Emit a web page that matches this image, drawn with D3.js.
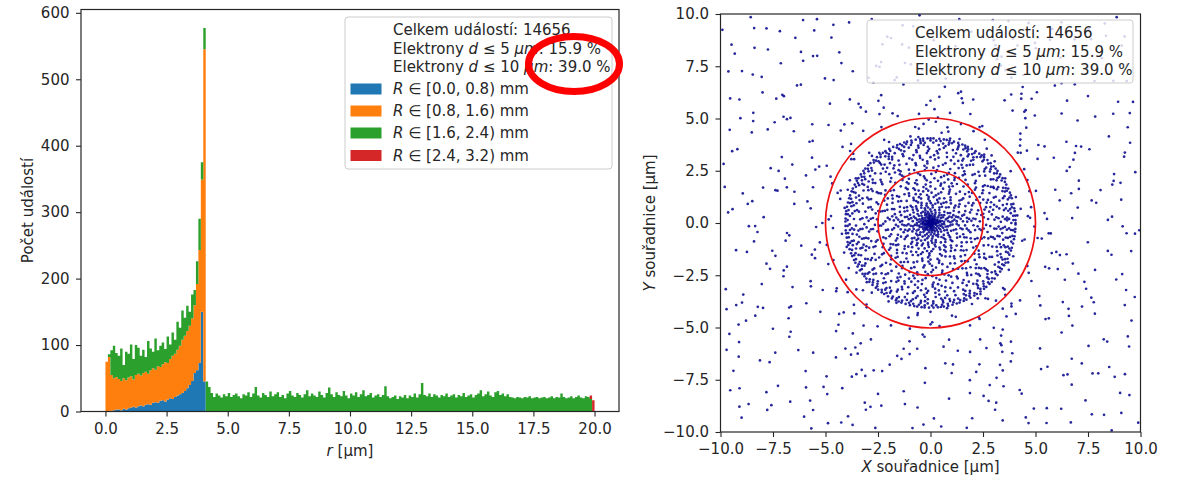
<!DOCTYPE html>
<html>
<head>
<meta charset="utf-8">
<script src="https://cdn.jsdelivr.net/npm/d3@7"></script>
<style>
body { margin: 0; background: #fff; }
svg text { font-family: "DejaVu Sans", sans-serif; fill: #262626; }
</style>
</head>
<body>
<svg id="chart" width="1181" height="481"></svg>
<script>
(function() {

// ---- histogram: counts per 0.1 µm bin of r (stacked by beam radius R) ----
const binWidth = 0.1;
const nBins = 200;
const blueCounts = [
    0, 0, 1, 2, 3, 3, 2, 4, 3, 5, 6, 7, 6, 8, 9, 8, 10, 11, 10, 13,
    14, 13, 16, 17, 15, 18, 20, 19, 22, 24, 26, 28, 31, 35, 40, 46, 58, 62, 73, 150,
    45
];
const orangeCounts = [
    75, 82, 54, 48, 49, 46, 44, 46, 44, 46, 47, 41, 49, 49, 45, 50, 50, 46, 52, 52,
    49, 55, 51, 54, 59, 55, 59, 65, 65, 69, 73, 80, 83, 86, 89, 94, 102, 130, 170, 199,
    500
];
const greenCounts = [
    0, 4, 37, 49, 36, 35, 49, 20, 43, 36, 48, 31, 45, 39, 30, 35, 22, 49, 33, 25,
    47, 24, 32, 33, 20, 40, 22, 35, 21, 42, 27, 44, 27, 38, 21, 36, 23, 34, 47, 26,
    32, 45, 37, 28, 22, 27, 24, 21, 26, 23, 28, 22, 25, 27, 23, 20, 26, 24, 29, 22,
    27, 37, 24, 21, 28, 25, 22, 30, 23, 26, 29, 22, 25, 20, 27, 31, 24, 22, 28, 25,
    21, 26, 32, 23, 27, 24, 22, 30, 25, 21, 28, 36, 26, 22, 29, 25, 23, 31, 24, 20,
    27, 24, 29, 22, 26, 32, 23, 25, 28, 21, 24, 26, 22, 25, 38, 23, 20, 22, 24, 19,
    23, 21, 25, 20, 24, 22, 27, 21, 26, 43, 25, 23, 27, 22, 26, 24, 21, 25, 23, 27,
    22, 24, 26, 21, 25, 23, 28, 22, 24, 26, 21, 25, 27, 32, 23, 26, 30, 24, 22, 29,
    31, 25, 27, 23, 26, 22, 21, 20, 22, 21, 20, 22, 21, 23, 20, 21, 22, 20, 21, 22,
    20, 21, 23, 20, 22, 21, 27, 22, 20, 21, 23, 20, 22, 24, 21, 20, 23, 22, 19, 0
];
const redBins = [[198, 5], [199, 17]];

const seriesKeys = ["blue", "orange", "green", "red"];
const seriesColors = ["#1f77b4", "#ff7f0e", "#2ca02c", "#d62728"];
const rangeEdges = [0.0, 0.8, 1.6, 2.4, 3.2];

const totalEvents = 14656;
const fractions = [{ d: 5, pct: 15.9 }, { d: 10, pct: 39.0 }];

const histXTicks = [0, 2.5, 5, 7.5, 10, 12.5, 15, 17.5, 20];
const histYTicks = [0, 100, 200, 300, 400, 500, 600];
const scatTicks = [-10, -7.5, -5, -2.5, 0, 2.5, 5, 7.5, 10];
const circleRadii = [2.5, 5];

// ---- scatter: sampled hits, polar angles (deg) listed per 0.1 µm radius bin ----
const ringAngles = [
    [211, 47, 330, 128, 6, 265, 189, 92, 301, 154, 23, 240, 357, 71, 176, 283, 115, 318],
    [88, 302, 17, 199, 245, 131, 352, 66, 160, 274, 39, 221, 109, 325, 2, 183, 257, 143, 290, 54],
    [150, 33, 276, 204, 97, 341, 12, 239, 121, 58, 309, 186, 269, 75, 225, 3, 162, 292, 108, 44, 351, 196],
    [267, 19, 138, 84, 315, 227, 172, 50, 358, 102, 249, 193, 28, 295, 157, 66, 213, 336, 120, 8, 283, 181, 237, 94],
    [61, 205, 329, 147, 14, 260, 98, 184, 312, 37, 231, 124, 346, 79, 168, 278, 5, 219, 111, 297, 153],
    [174, 310, 42, 252, 118, 355, 86, 201, 26, 289, 141, 64, 232, 327, 10, 193, 272, 104, 161, 343],
    [25, 246, 133, 304, 71, 190, 355, 112, 223, 49, 280, 167, 5, 321, 91, 209, 148, 262, 36, 339, 180, 124, 295],
    [299, 82, 209, 145, 13, 258, 332, 111, 56, 187, 240, 347, 162, 30, 276, 99, 228],
    [136, 6, 273, 191, 318, 60, 224, 103, 349, 159, 39, 287, 217, 83, 308, 174, 16, 252, 121, 337, 200],
    [242, 101, 19, 330, 166, 285, 55, 205, 134, 353, 76, 263, 188, 30, 311, 148, 232, 89, 2, 275, 117],
    [45, 312, 158, 223, 92, 5, 264, 183, 131, 339, 70, 250, 15, 197, 298, 114, 356, 143, 231, 61, 281, 170, 27, 326],
    [186, 308, 57, 249, 139, 19, 282, 95, 220, 343, 165, 74, 266, 8, 199, 121, 324, 41, 237],
    [83, 238, 14, 301, 167, 111, 346, 53, 209, 276, 139, 28, 257, 185, 320, 94, 4, 226, 152, 290, 70, 358, 123, 195],
    [320, 146, 33, 263, 97, 210, 355, 176, 61, 290, 126, 245, 12, 199, 338, 79, 227, 156, 302, 44, 272, 114, 183],
    [109, 268, 21, 192, 331, 75, 233, 150, 8, 297, 178, 49, 255, 124, 350, 212, 88, 312, 35, 165],
    [227, 52, 310, 137, 3, 186, 268, 94, 349, 160, 30, 244, 117, 287, 71, 205, 335, 13, 174, 253, 103, 298],
    [14, 171, 289, 97, 236, 341, 58, 200, 128, 266, 33, 319, 152, 82, 222, 356, 110, 249, 183, 306],
    [257, 115, 2, 328, 188, 70, 294, 143, 225, 38, 351, 166, 90, 270, 19, 205, 312, 126, 59, 241, 337, 176, 101, 281, 8],
    [132, 283, 49, 214, 349, 97, 170, 26, 258, 323, 146, 75, 232, 6, 190, 300, 116, 60, 267, 338, 207, 159, 37],
    [347, 196, 63, 269, 124, 15, 227, 305, 90, 175, 251, 37, 332, 140, 213, 109, 282, 3, 160, 75, 318],
    [71, 219, 6, 304, 152, 95, 262, 189, 339, 28, 236, 125, 286, 47, 173, 357, 111, 210, 320, 80, 247, 141, 18, 272, 198, 59],
    [178, 323, 40, 261, 108, 5, 222, 147, 296, 85, 351, 189, 62, 240, 119, 335, 23, 277, 163, 208, 97, 312],
    [291, 34, 199, 120, 356, 77, 236, 165, 11, 273, 144, 317, 56, 212, 98, 340, 181, 250, 25, 129, 301, 68, 226, 157],
    [102, 247, 330, 15, 183, 61, 284, 138, 213, 353, 89, 264, 39, 166, 309, 116, 225, 2, 197, 74, 342, 150, 271, 48, 233],
    [220, 62, 333, 141, 283, 9, 183, 104, 255, 36, 312, 167, 84, 237, 352, 123, 204, 27, 296, 154, 71, 267],
    [10, 167, 301, 83, 238, 131, 354, 46, 207, 272, 113, 325, 22, 189, 96, 256, 148, 343, 58, 223, 285, 6, 176, 120, 314, 70, 247],
    [198, 37, 276, 121, 345, 87, 232, 160, 14, 305, 64, 252, 182, 107, 330, 28, 213, 144, 289, 51, 358, 94, 265, 170],
    [308, 149, 24, 226, 82, 337, 175, 112, 262, 4, 199, 291, 56, 134, 244, 320, 96, 213, 38, 159, 279, 351, 70, 186, 122, 254, 16, 327],
    [55, 238, 120, 312, 11, 186, 273, 93, 345, 150, 222, 30, 296, 167, 78, 258, 357, 131, 203, 42, 325, 104, 249, 176, 20, 285],
    [141, 277, 8, 214, 330, 63, 188, 104, 252, 347, 32, 165, 296, 121, 231, 76, 318, 197, 15, 272, 150, 43, 339, 93, 241, 178, 306, 125, 22, 262, 203, 57],
    [239, 19, 158, 305, 86, 209, 347, 130, 272, 49, 184, 327, 112, 256, 3, 221, 68, 166, 290, 35, 140, 355, 97, 246, 194, 315, 60, 280, 12, 175],
    [90, 214, 339, 27, 151, 266, 72, 193, 317, 5, 124, 241, 355, 106, 283, 48, 170, 230, 327, 16, 139, 259, 62, 202, 300, 83, 181, 35, 247, 118, 346, 221, 159, 274, 99, 308],
    [176, 312, 58, 229, 4, 144, 268, 99, 349, 193, 33, 251, 122, 287, 76, 211, 330, 158, 14, 240, 108, 298, 44, 185, 357, 131, 262, 87, 318, 22, 200, 66, 277, 150],
    [12, 135, 257, 340, 71, 198, 303, 47, 164, 226, 93, 320, 1, 246, 117, 185, 282, 31, 152, 355, 212, 84, 267, 128, 331, 56, 177, 236, 104, 293, 22, 145, 349, 203, 63, 274, 193, 313],
    [247, 63, 171, 320, 18, 131, 289, 210, 92, 352, 150, 41, 265, 186, 337, 112, 5, 230, 300, 77, 160, 356, 54, 200, 277, 124, 30, 313, 219, 101, 256, 143, 343, 85, 191, 29],
    [3, 121, 233, 347, 66, 182, 296, 27, 154, 260, 83, 209, 320, 44, 138, 244, 357, 101, 195, 309, 14, 170, 274, 57, 223, 334, 112, 146, 283, 36, 252, 91, 189, 341, 70, 219, 128, 305, 10, 162, 266, 200],
    [196, 318, 80, 4, 142, 259, 35, 171, 297, 110, 222, 355, 61, 185, 278, 19, 130, 244, 336, 92, 205, 45, 159, 289, 11, 120, 232, 343, 73, 177, 268, 28, 150, 307, 212, 99, 327, 56, 238, 165, 2, 281, 123, 349],
    [3, 9, 20, 24, 33, 41, 45, 57, 61, 70, 79, 84, 95, 99, 106, 117, 122, 130, 138, 146, 150, 161, 167, 173, 184, 188, 199, 204, 213, 219, 228, 236, 240, 251, 257, 263, 272, 279, 284, 295, 300, 307, 316, 321, 330, 334, 342, 349, 356, 14, 112, 193, 266, 312],
    [0, 7, 10, 17, 23, 26, 34, 38, 42, 50, 55, 59, 66, 70, 77, 81, 88, 94, 97, 104, 109, 113, 121, 124, 130, 137, 140, 148, 152, 158, 165, 168, 175, 181, 185, 193, 196, 202, 209, 212, 219, 225, 229, 236, 240, 247, 253, 256, 263, 268, 272, 279, 284, 290, 296, 299, 306, 311, 316, 323, 327, 333, 339, 343, 350, 355, 63, 145, 287],
    [2, 5, 11, 13, 18, 23, 25, 31, 34, 37, 43, 46, 50, 53, 58, 63, 65, 70, 75, 77, 83, 86, 90, 95, 97, 103, 107, 110, 114, 119, 122, 127, 131, 133, 139, 143, 146, 151, 154, 158, 163, 166, 171, 174, 178, 182, 187, 190, 194, 199, 203, 206, 210, 214, 218, 223, 226, 230, 234, 238, 243, 246, 250, 255, 258, 262, 266, 271, 274, 278, 282, 286, 291, 294, 298, 302, 307, 310, 314, 318, 322, 327, 330, 334, 339, 342, 347, 351, 355],
    [0, 2, 5, 8, 10, 13, 17, 19, 21, 24, 27, 29, 32, 35, 38, 40, 42, 45, 48, 51, 53, 55, 58, 61, 64, 66, 68, 71, 74, 77, 79, 81, 84, 88, 90, 92, 95, 97, 100, 103, 106, 108, 111, 113, 116, 119, 122, 124, 126, 129, 132, 135, 137, 140, 142, 145, 148, 150, 153, 156, 158, 161, 163, 166, 169, 172, 174, 177, 179, 182, 185, 187, 190, 193, 195, 198, 201, 203, 206, 208, 211, 214, 217, 219, 221, 224, 227, 230, 232, 235, 237, 240, 243, 246, 248, 250, 253, 256, 259, 261, 264, 266, 269, 272, 275, 277, 279, 282, 285, 288, 290, 293, 295, 298, 301, 303, 306, 309, 311, 314, 316, 319, 322, 325, 327, 330, 332, 335, 338, 341, 343, 346, 349, 351, 354, 356, 359],
    [5, 31, 52, 77, 98, 126, 149, 170, 196, 223, 247, 281, 305, 333],
    [17, 44, 71, 103, 131, 158, 187, 214, 242, 270, 302, 338],
    [9, 48, 83, 117, 152, 199, 230, 262, 297, 329],
    [53, 79, 131, 165, 209, 262, 306, 349],
    [33, 97, 119, 160, 225, 283, 307, 350],
    [4, 80, 99, 162, 183, 257, 285, 318],
    [3, 57, 94, 140, 176, 222, 271, 318],
    [9, 65, 87, 141, 178, 214, 270, 310],
    [18, 73, 91, 138, 201, 232, 275, 316, 358],
    [24, 86, 158, 192, 233, 297, 336],
    [30, 63, 117, 138, 180, 220, 259, 297, 352],
    [17, 62, 96, 155, 202, 249, 291, 333],
    [39, 80, 107, 135, 190, 227, 266, 310, 352],
    [5, 38, 88, 126, 182, 215, 267, 315],
    [2, 70, 109, 139, 216, 243, 314, 330],
    [41, 92, 151, 193, 230, 279, 319, 355],
    [37, 115, 173, 197, 260, 309, 355],
    [43, 90, 163, 195, 237, 301, 339],
    [31, 75, 112, 153, 170, 226, 276, 313, 346],
    [45, 86, 128, 155, 212, 264, 293, 339],
    [15, 76, 120, 134, 225, 258, 304, 347],
    [10, 71, 131, 190, 243, 282, 326],
    [36, 78, 113, 159, 206, 261, 302, 346],
    [45, 77, 121, 151, 208, 235, 287, 340],
    [34, 84, 111, 172, 228, 256, 294, 323],
    [28, 54, 121, 167, 240, 258, 300, 347],
    [2, 48, 101, 136, 185, 219, 276, 300],
    [12, 59, 95, 145, 184, 229, 279, 304],
    [21, 50, 84, 146, 187, 239, 268, 337],
    [6, 50, 104, 123, 166, 213, 254, 299, 344],
    [22, 46, 103, 157, 197, 241, 289, 320],
    [13, 58, 112, 163, 205, 236, 278, 321],
    [16, 54, 93, 140, 198, 239, 302, 329],
    [24, 81, 130, 168, 200, 252, 287, 341],
    [31, 55, 113, 168, 192, 249, 296, 353],
    [26, 51, 97, 161, 190, 268, 300],
    [8, 74, 99, 156, 211, 245, 284, 328],
    [28, 56, 108, 146, 211, 235, 296, 339],
    [7, 61, 109, 178, 196, 247, 311, 326],
    [27, 51, 107, 161, 194, 244, 293, 337],
    [40, 64, 117, 168, 214, 261, 320, 344],
    [11, 66, 124, 183, 243, 290, 331],
    [25, 58, 85, 143, 181, 228, 283, 324],
    [1, 68, 97, 144, 186, 218, 276, 335],
    [35, 82, 126, 173, 200, 253, 294, 351],
    [2, 67, 99, 144, 181, 219, 287, 334],
    [42, 89, 119, 174, 224, 262, 307, 350],
    [12, 48, 105, 147, 189, 236, 266, 309],
    [13, 69, 94, 150, 207, 242, 288, 331],
    [15, 70, 102, 133, 171, 214, 255, 298],
    [7, 47, 103, 134, 206, 250, 290, 359],
    [12, 71, 118, 139, 230, 252, 298, 343],
    [33, 78, 139, 188, 237, 271, 316, 357],
    [26, 64, 95, 141, 176, 208, 251, 289, 345],
    [44, 98, 153, 201, 239, 282, 322],
    [39, 66, 124, 177, 220, 268, 311, 352],
    [19, 59, 125, 150, 203, 273, 312, 357],
    [20, 82, 128, 159, 233, 265, 317, 341],
    [60, 93, 148, 170, 208, 280, 326, 358],
    [14, 52, 118, 160, 203, 247, 290, 337],
    [31, 73, 106, 142, 221, 255, 299, 326],
    [22, 60, 127, 164, 198, 236, 311],
    [41, 69, 112, 151, 208, 249, 296, 340],
    [26, 57, 133, 219, 246, 302],
    [45, 116, 155, 203, 238, 317],
    [33, 64, 139, 227, 296, 334],
    [50, 121, 212, 243, 318],
    [29, 147, 232, 305, 330],
    [58, 126, 209, 321],
    [38, 140, 237, 300],
    [52, 119, 215, 328],
    [31, 148, 226, 311],
    [44, 133, 240],
    [57, 122, 212, 320],
    [36, 141, 229],
    [49, 128, 305],
    [40, 217, 322],
    [135, 229],
    [51, 310],
    [39, 143, 221],
    [130, 318],
    [47, 225],
    [139, 312],
    [43, 220],
    [132, 319],
    [49, 224],
    [138],
    [44, 315],
    [226],
    [131],
    [311],
    [48],
    [229],
    [],
    [137],
    [],
    [316]
];

const ink = "#262626";
const fontSize = 15;
const svg = d3.select("#chart");

const histBox = { left: 81, right: 619, top: 9.5, bottom: 411.5 };
const scatBox = { left: 720.5, right: 1140.5, top: 14, bottom: 432 };


// ================= left: stacked histogram =================
const xHist = d3.scaleLinear().domain([-1, 21]).range([histBox.left, histBox.right]);
const yHist = d3.scaleLinear().domain([0, 605]).range([histBox.bottom, histBox.top]);

const redMap = new Map(redBins);
// one row per bin edge, last row repeats the last bin so the step closes at 20.0
const rows = d3.range(nBins + 1).map(i => {
    const j = Math.min(i, nBins - 1);
    return {
        edge: i * binWidth,
        blue: blueCounts[j] || 0,
        orange: orangeCounts[j] || 0,
        green: greenCounts[j] || 0,
        red: redMap.get(j) || 0
    };
});
const stacked = d3.stack().keys(seriesKeys)(rows);

const area = d3.area()
    .curve(d3.curveStepAfter)
    .x(d => xHist(d.data.edge))
    .y0(d => yHist(d[0]))
    .y1(d => yHist(d[1]));

svg.append("g")
    .selectAll("path")
    .data(stacked)
    .enter()
    .append("path")
    .attr("d", area)
    .attr("fill", (d, i) => seriesColors[i]);

function styleAxis(g) {
    g.attr("font-size", fontSize).attr("font-family", "DejaVu Sans");
    g.select(".domain").remove();
    g.selectAll(".tick line").attr("stroke", ink).attr("stroke-width", 1.1);
    g.selectAll(".tick text").attr("fill", ink);
}

svg.append("g")
    .attr("transform", `translate(0,${histBox.bottom})`)
    .call(d3.axisBottom(xHist).tickValues(histXTicks).tickFormat(d3.format(".1f")).tickSize(5).tickPadding(6.5))
    .call(styleAxis);

svg.append("g")
    .attr("transform", `translate(${histBox.left},0)`)
    .call(d3.axisLeft(yHist).tickValues(histYTicks).tickSize(5).tickPadding(6.5))
    .call(styleAxis);

svg.append("rect")
    .attr("x", histBox.left).attr("y", histBox.top)
    .attr("width", histBox.right - histBox.left)
    .attr("height", histBox.bottom - histBox.top)
    .attr("fill", "none").attr("stroke", ink).attr("stroke-width", 1.2);

svg.append("text")
    .attr("transform", `translate(28,${(histBox.top + histBox.bottom) / 2}) rotate(-90)`)
    .attr("text-anchor", "middle").attr("dominant-baseline", "central")
    .attr("font-size", fontSize)
    .text("Počet událostí");

const rLabel = svg.append("text")
    .attr("x", (histBox.left + histBox.right) / 2).attr("y", 451)
    .attr("text-anchor", "middle").attr("dominant-baseline", "central")
    .attr("font-size", fontSize);
rLabel.append("tspan").attr("font-style", "italic").text("r");
rLabel.append("tspan").text(" [µm]");


// ================= right: scatter of hits =================
const xScat = d3.scaleLinear().domain([-10, 10]).range([scatBox.left, scatBox.right]);
const yScat = d3.scaleLinear().domain([-10, 10]).range([scatBox.bottom, scatBox.top]);

const hits = ringAngles.flatMap((angles, i) => {
    const r = (i + 0.5) * binWidth;
    return angles.map(a => ({ x: r * Math.cos(a * Math.PI / 180), y: r * Math.sin(a * Math.PI / 180) }));
});

svg.append("clipPath").attr("id", "scat-clip")
    .append("rect")
    .attr("x", scatBox.left).attr("y", scatBox.top)
    .attr("width", scatBox.right - scatBox.left)
    .attr("height", scatBox.bottom - scatBox.top);

const scatG = svg.append("g").attr("clip-path", "url(#scat-clip)");

scatG.selectAll(".hit")
    .data(hits)
    .enter()
    .append("circle")
    .attr("class", "hit")
    .attr("cx", d => xScat(d.x))
    .attr("cy", d => yScat(d.y))
    .attr("r", 1.35)
    .attr("fill", "#00008b")
    .attr("fill-opacity", 0.85);

scatG.selectAll(".limit")
    .data(circleRadii)
    .enter()
    .append("circle")
    .attr("class", "limit")
    .attr("cx", xScat(0))
    .attr("cy", yScat(0))
    .attr("r", d => xScat(d) - xScat(0))
    .attr("fill", "none")
    .attr("stroke", "#ee1111")
    .attr("stroke-width", 1.7);

svg.append("g")
    .attr("transform", `translate(0,${scatBox.bottom})`)
    .call(d3.axisBottom(xScat).tickValues(scatTicks).tickFormat(d3.format(".1f")).tickSize(5).tickPadding(6))
    .call(styleAxis);

svg.append("g")
    .attr("transform", `translate(${scatBox.left},0)`)
    .call(d3.axisLeft(yScat).tickValues(scatTicks).tickFormat(d3.format(".1f")).tickSize(5).tickPadding(6.5))
    .call(styleAxis);

svg.append("rect")
    .attr("x", scatBox.left).attr("y", scatBox.top)
    .attr("width", scatBox.right - scatBox.left)
    .attr("height", scatBox.bottom - scatBox.top)
    .attr("fill", "none").attr("stroke", ink).attr("stroke-width", 1.2);

const xLabel = svg.append("text")
    .attr("x", (scatBox.left + scatBox.right) / 2).attr("y", 467)
    .attr("text-anchor", "middle").attr("dominant-baseline", "central")
    .attr("font-size", fontSize);
xLabel.append("tspan").attr("font-style", "italic").text("X");
xLabel.append("tspan").text(" souřadnice [µm]");

const yLabel = svg.append("text")
    .attr("transform", `translate(650,${(scatBox.top + scatBox.bottom) / 2}) rotate(-90)`)
    .attr("text-anchor", "middle").attr("dominant-baseline", "central")
    .attr("font-size", fontSize);
yLabel.append("tspan").attr("font-style", "italic").text("Y");
yLabel.append("tspan").text(" souřadnice [µm]");


// ================= legends =================
function drawLegend(box, textX, lineYs, patchYs) {
    const g = svg.append("g");
    g.append("rect")
        .attr("x", box.x).attr("y", box.y)
        .attr("width", box.w).attr("height", box.h)
        .attr("rx", 3)
        .attr("fill", "#fff").attr("fill-opacity", 0.8)
        .attr("stroke", "#cccccc").attr("stroke-width", 1);

    g.append("text")
        .attr("x", textX).attr("y", lineYs[0])
        .attr("dominant-baseline", "central").attr("font-size", fontSize)
        .text(`Celkem událostí: ${totalEvents}`);

    fractions.forEach((f, i) => {
        const t = g.append("text")
            .attr("x", textX).attr("y", lineYs[i + 1])
            .attr("dominant-baseline", "central").attr("font-size", fontSize);
        t.append("tspan").text("Elektrony ");
        t.append("tspan").attr("font-style", "italic").text("d");
        t.append("tspan").text(` ≤ ${f.d} `);
        t.append("tspan").attr("font-style", "italic").text("µm");
        t.append("tspan").text(`: ${f.pct.toFixed(1)} %`);
    });

    patchYs.forEach((y, i) => {
        g.append("rect")
            .attr("x", box.x + 5.5).attr("y", y - 5.5)
            .attr("width", 31).attr("height", 11)
            .attr("fill", seriesColors[i]);
        const t = g.append("text")
            .attr("x", textX).attr("y", y)
            .attr("dominant-baseline", "central").attr("font-size", fontSize);
        t.append("tspan").attr("font-style", "italic").text("R");
        t.append("tspan").text(` ∈ [${rangeEdges[i].toFixed(1)}, ${rangeEdges[i + 1].toFixed(1)}) mm`);
    });
}

drawLegend({ x: 345, y: 17, w: 267, h: 152 }, 393, [30, 48.5, 66.5], [89, 111, 133, 155.5]);
drawLegend({ x: 867, y: 20, w: 266, h: 63 }, 915, [33, 51.5, 70], []);

// hand-drawn highlight around the percentages
svg.append("ellipse")
    .attr("cx", 574).attr("cy", 64)
    .attr("rx", 45.5).attr("ry", 27.5)
    .attr("fill", "none")
    .attr("stroke", "#ff0000")
    .attr("stroke-width", 7);

})();
</script>
</body>
</html>
